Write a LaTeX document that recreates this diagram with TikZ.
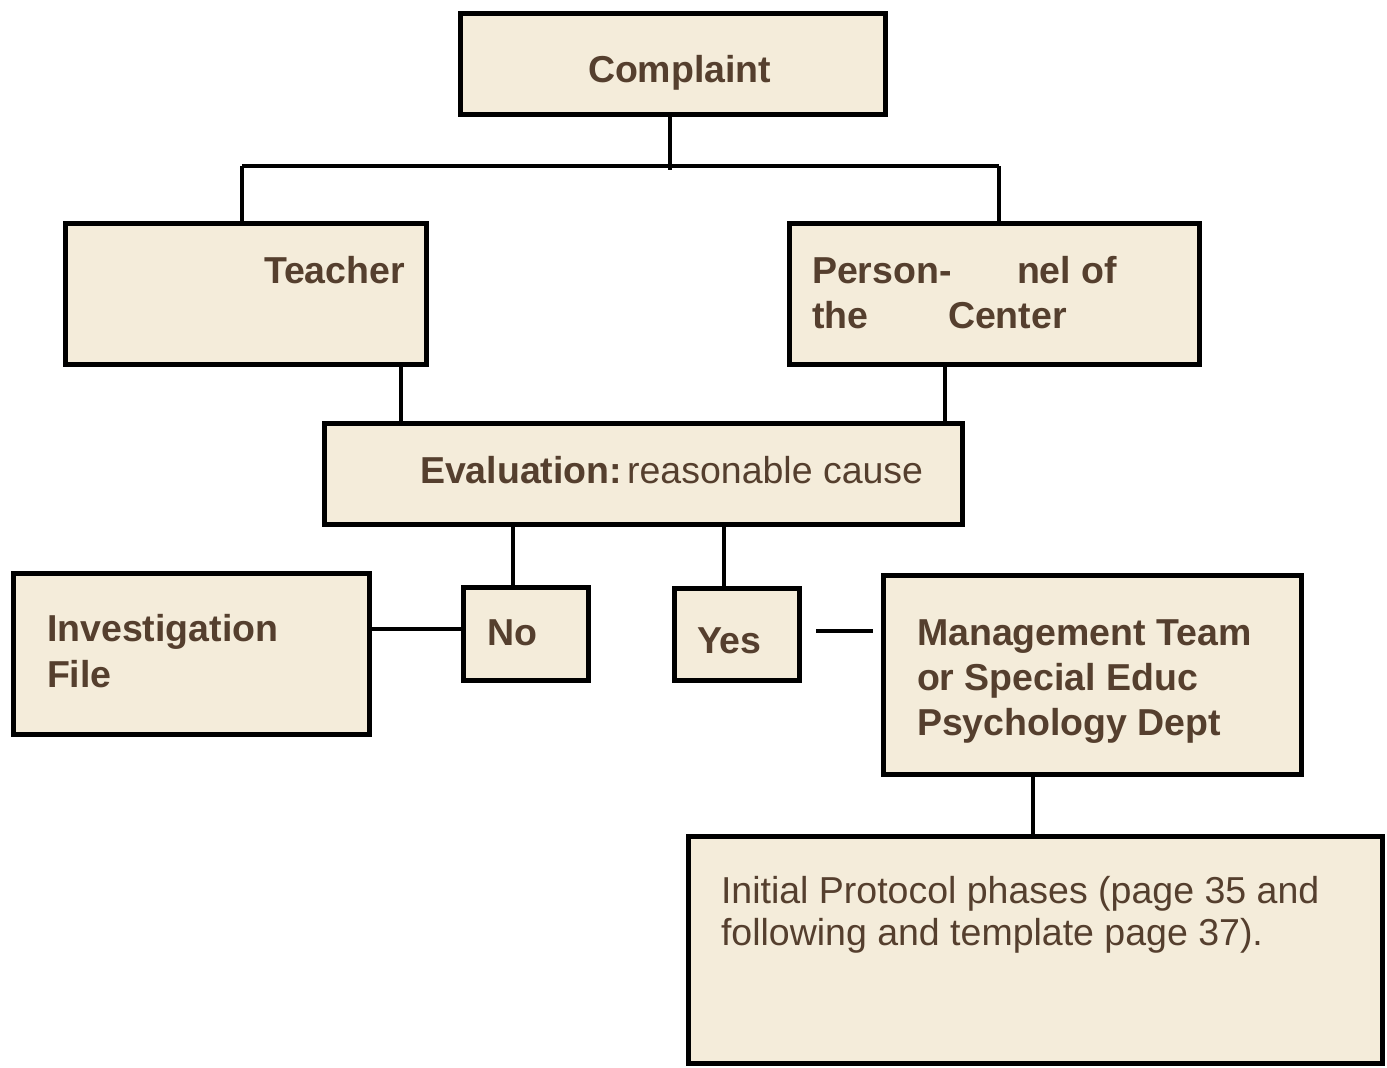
\documentclass[tikz,border=0pt]{standalone}
\usepackage{fontspec}
\setmainfont{Liberation Sans}
\definecolor{boxfill}{HTML}{F4ECDA}
\definecolor{txtbrown}{HTML}{553F2E}
\begin{document}
\begin{tikzpicture}[x=1pt,y=-1pt,
  box/.style={draw=black,fill=boxfill,line width=5pt,rectangle,inner sep=0pt,outer sep=0pt},
  conn/.style={draw=black,line width=4pt},
  lbl/.style={anchor=base west,inner sep=0pt,outer sep=0pt,text=txtbrown,font=\fontsize{37.5}{45}\selectfont\bfseries},
  lblr/.style={anchor=base west,inner sep=0pt,outer sep=0pt,text=txtbrown,font=\fontsize{37.5}{45}\selectfont}]
\useasboundingbox[fill=white] (0,0) rectangle (1387,1068);
% boxes
\node[box,minimum width=425pt,minimum height=101pt] (complaint) at (673,64) {};
\node[box,minimum width=361pt,minimum height=141pt] (teacher) at (246,294) {};
\node[box,minimum width=410pt,minimum height=141pt] (personnel) at (994.5,294) {};
\node[box,minimum width=638pt,minimum height=101pt] (eval) at (643.5,474) {};
\node[box,minimum width=356pt,minimum height=161pt] (invest) at (191.5,654) {};
\node[box,minimum width=125pt,minimum height=93pt] (no) at (526,634) {};
\node[box,minimum width=125pt,minimum height=92pt] (yes) at (737,634.5) {};
\node[box,minimum width=418pt,minimum height=199pt] (mgmt) at (1092.5,675) {};
\node[box,minimum width=694pt,minimum height=227pt] (initial) at (1035.5,950) {};
% coordinates
\coordinate (jm) at (670,170);
\coordinate (jl) at (242,166);
\coordinate (jr) at (999,166);
\coordinate (ya) at (816,631);
\coordinate (yb) at (873,631);
% connectors
\draw[conn] (jm |- complaint.south) -- (jm);
\draw[conn] (jl) -- (jr);
\draw[conn] (jl) -- (jl |- teacher.north);
\draw[conn] (jr) -- (jr |- personnel.north);
\draw[conn] (teacher.south -| 401,0) -- (eval.north -| 401,0);
\draw[conn] (personnel.south -| 945,0) -- (eval.north -| 945,0);
\draw[conn] (eval.south -| 513,0) -- (no.north -| 513,0);
\draw[conn] (eval.south -| 724,0) -- (yes.north -| 724,0);
\draw[conn] (invest.east |- 0,629) -- (no.west |- 0,629);
\draw[conn] (ya) -- (yb);
\draw[conn] (mgmt.south -| 1033,0) -- (initial.north -| 1033,0);
% texts
\node[lbl] (tcomplaint) at (588,82) {Complaint};
\node[lbl] (tteacher) at (264,283) {Teacher};
\node[lbl] (tp1) at (812,283) {Person-};
\node[lbl] (tp2) at (1017,283) {nel of};
\node[lbl] (tp3) at (812,328) {the};
\node[lbl] (tp4) at (948,328) {Center};
\node[lblr] (teval) at (420,483) {\textbf{Evaluation:}\hspace{5pt}reasonable cause};
\node[lbl] (tinv1) at (47,641) {Investigation};
\node[lbl] (tinv2) at (47,687) {File};
\node[lbl] (tno) at (487,645) {No};
\node[lbl] (tyes) at (697,653) {Yes};
\node[lbl] (tm1) at (917,645) {Management Team};
\node[lbl] (tm2) at (917,690) {or Special Educ};
\node[lbl] (tm3) at (917,735) {Psychology Dept};
\node[lblr] (ti1) at (721,903) {Initial Protocol phases (page 35 and};
\node[lblr] (ti2) at (721,945) {following and template page 37).};
\end{tikzpicture}
\end{document}
